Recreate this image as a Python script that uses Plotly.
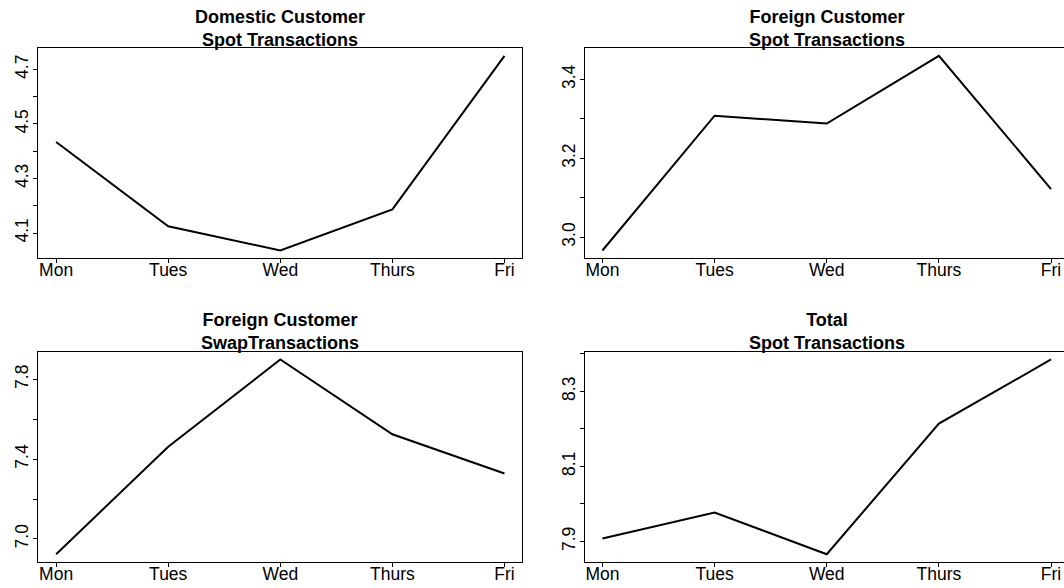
import plotly.graph_objects as go

days = ["Mon", "Tues", "Wed", "Thurs", "Fri"]
day_pos = [1, 2, 3, 4, 5]

domestic_spot = [4.434, 4.125, 4.036, 4.187, 4.750]
foreign_spot = [2.966, 3.308, 3.288, 3.460, 3.122]
foreign_swap = [6.923, 7.462, 7.900, 7.525, 7.328]
total_spot = [7.908, 7.977, 7.866, 8.214, 8.385]

titles = [
    "Domestic Customer<br>Spot Transactions",
    "Foreign Customer<br>Spot Transactions",
    "Foreign Customer<br>SwapTransactions",
    "Total<br>Spot Transactions",
]

tick_vals = [
    [4.1, 4.2, 4.3, 4.4, 4.5, 4.6, 4.7],
    [3.0, 3.1, 3.2, 3.3, 3.4],
    [7.0, 7.2, 7.4, 7.6, 7.8],
    [7.9, 8.0, 8.1, 8.2, 8.3, 8.4],
]
tick_text = [
    ["4.1", "", "4.3", "", "4.5", "", "4.7"],
    ["3.0", "", "3.2", "", "3.4"],
    ["7.0", "", "7.4", "", "7.8"],
    ["7.9", "", "8.1", "", "8.3", ""],
]

series = [domestic_spot, foreign_spot, foreign_swap, total_spot]

W, H = 1064, 588
# plot boxes in pixels: (left, right, top, bottom); right panels run past the page edge
boxes = [
    (38.2, 522.4, 48.0, 258.3),
    (584.5, 1069.0, 48.0, 258.3),
    (38.2, 522.4, 351.7, 562.0),
    (584.5, 1069.0, 351.7, 562.0),
]

FONT = "Liberation Sans, Arial, Helvetica, sans-serif"
fig = go.Figure()
layout = dict(
    width=W, height=H,
    margin=dict(l=0, r=0, t=0, b=0),
    paper_bgcolor="white", plot_bgcolor="white",
    showlegend=False,
    font=dict(family=FONT, size=17.5, color="black"),
)
annotations = []

for i, (vals, box) in enumerate(zip(series, boxes)):
    k = "" if i == 0 else str(i + 1)
    l, r, t, b = box
    rr = min(r, W)
    x_lo, x_hi = 1 - 0.04 * 4, 5 + 0.04 * 4
    px_per_unit = (r - l) / (x_hi - x_lo)
    x_hi_vis = x_lo + (rr - l) / px_per_unit
    lo, hi = min(vals), max(vals)
    pad = 0.04 * (hi - lo)
    fig.add_trace(go.Scatter(
        x=day_pos, y=vals, mode="lines",
        line=dict(color="black", width=2),
        xaxis="x" + k, yaxis="y" + k, hoverinfo="skip",
    ))
    layout["xaxis" + k] = dict(
        domain=[l / W, rr / W], range=[x_lo, x_hi_vis],
        anchor="y" + k,
        tickvals=day_pos, ticktext=days,
        ticks="outside", ticklen=4, tickcolor="black", tickwidth=1,
        showline=True, linecolor="black", linewidth=1, mirror=True,
        showgrid=False, zeroline=False, fixedrange=True,
        tickfont=dict(size=17.5), ticklabelstandoff=-8,
    )
    layout["yaxis" + k] = dict(
        domain=[1 - b / H, 1 - t / H], range=[lo - pad, hi + pad],
        anchor="x" + k,
        tickvals=tick_vals[i], ticktext=tick_text[i],
        ticks="outside", ticklen=4, tickcolor="black", tickwidth=1,
        tickangle=-90,
        showline=True, linecolor="black", linewidth=1,
        mirror=(r <= W),
        showgrid=False, zeroline=False, fixedrange=True,
        tickfont=dict(size=17.5), ticklabelstandoff=-2,
    )
    annotations.append(dict(
        text="<b>" + titles[i] + "</b>",
        x=(l + r) / 2 / W, y=1 - (t - 20) / H,
        xref="paper", yref="paper", xanchor="center", yanchor="middle",
        showarrow=False, font=dict(size=18, family=FONT, color="black"),
    ))

layout["annotations"] = annotations
fig.update_layout(**layout)
fig.write_html(
    "out.html",
    config={"displayModeBar": False, "staticPlot": True},
    post_script="document.body.style.margin='0';document.body.style.overflow='hidden';",
)
